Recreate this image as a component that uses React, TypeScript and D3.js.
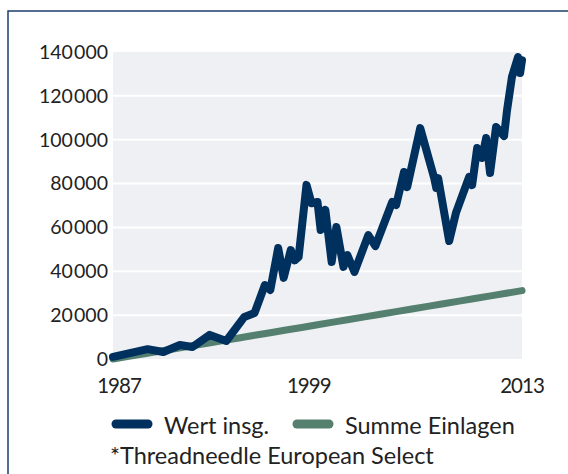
import React from 'react'
import * as d3 from 'd3'

// Wert insg. (years as decimals, values in EUR)
const wertYears = [
  1987.0, 1989.2, 1990.2, 1991.25, 1992.05, 1993.15, 1994.2, 1995.35, 1996.0, 1996.65,
  1997.0, 1997.5, 1997.85, 1998.3, 1998.55, 1998.8, 1999.3, 1999.62, 2000.0, 2000.2,
  2000.5, 2000.9, 2001.2, 2001.65, 2001.9, 2002.35, 2003.23, 2003.68, 2004.75, 2005.0,
  2005.5, 2005.7, 2006.53, 2007.42, 2007.55, 2007.67, 2008.37, 2008.8, 2009.64, 2009.83,
  2010.15, 2010.46, 2010.72, 2010.97, 2011.35, 2011.86, 2012.05, 2012.36, 2012.75, 2012.88,
  2013.0,
]
const wertValues = [
  1000, 4500, 3200, 6400, 5500, 11000, 8200, 19200, 21000, 33700,
  31500, 50600, 37000, 49700, 45000, 46500, 79400, 71000, 71600, 58800,
  68000, 44200, 60200, 42000, 47400, 39700, 56500, 51500, 71600, 70200,
  85300, 78400, 105300, 82500, 78000, 82500, 53800, 66600, 83000, 79300,
  96200, 91700, 100800, 84800, 105800, 101700, 113500, 128600, 137700, 130400,
  136300,
]

// Summe Einlagen (one value per year)
const einlagenYears = [
  1987, 1988, 1989, 1990, 1991, 1992, 1993, 1994, 1995, 1996, 1997, 1998, 1999, 2000,
  2001, 2002, 2003, 2004, 2005, 2006, 2007, 2008, 2009, 2010, 2011, 2012, 2013,
]
const einlagenValues = [
  0, 1200, 2400, 3600, 4800, 6000, 7200, 8400, 9600, 10800, 12000, 13200, 14400, 15600,
  16800, 18000, 19200, 20400, 21600, 22800, 24000, 25200, 26400, 27600, 28800, 30000, 31200,
]

const yTicks = [0, 20000, 40000, 60000, 80000, 100000, 120000, 140000]
const xTicks = [1987, 1999, 2013]
const legendLabels = ['Wert insg.', 'Summe Einlagen']
const footnote = '*Threadneedle European Select'

const NAVY = '#00305e'
const GREEN = '#55806f'
const FONT = 'Lato, sans-serif'

const fmt = (v: number) =>
  v >= 1000 ? `${Math.floor(v / 1000)}\u200a${String(v % 1000).padStart(3, '0')}` : String(v)

export default function App() {
  const x = d3.scaleLinear().domain([1987, 2013]).range([113, 522])
  const y = d3.scaleLinear().domain([0, 140000]).range([359, 52])

  const line = d3
    .line<[number, number]>()
    .x(d => x(d[0]))
    .y(d => y(d[1]))

  const wert = wertYears.map((yr, i) => [yr, wertValues[i]] as [number, number])
  const einlagen = einlagenYears.map((yr, i) => [yr, einlagenValues[i]] as [number, number])

  const legendX = [112, 293]
  const colors = [NAVY, GREEN]

  return (
    <svg
      width={568}
      height={474}
      style={{ position: 'absolute', left: 0, top: 0, background: '#fff' }}
    >
      {/* frame */}
      <rect x={8} y={11} width={600} height={500} fill="none" stroke="#1d3d6b" strokeWidth={1.5} />

      {/* plot background */}
      <rect x={x(1987)} y={y(140000)} width={x(2013) - x(1987)} height={y(0) - y(140000)} fill="#eff0f4" />
      {yTicks.slice(1, -1).map(t => (
        <line key={t} x1={x(1987)} x2={x(2013)} y1={y(t)} y2={y(t)} stroke="#fff" strokeWidth={2} />
      ))}

      {/* y labels */}
      {yTicks.map(t => (
        <text
          key={t}
          x={108}
          y={y(t)}
          dy="0.35em"
          textAnchor="end"
          fontFamily={FONT}
          fontSize={19.5}
          fill="#222"
        >
          {fmt(t)}
        </text>
      ))}

      {/* x labels */}
      {xTicks.map(t => (
        <text
          key={t}
          x={x(t) + (t === 1987 ? 6 : t === 1999 ? 7 : 0)}
          y={393}
          textAnchor="middle"
          fontFamily={FONT}
          fontSize={20.5}
          letterSpacing={-1}
          fill="#222"
        >
          {t}
        </text>
      ))}

      <path d={line(einlagen) ?? ''} fill="none" stroke={GREEN} strokeWidth={7} strokeLinecap="round" />
      <path
        d={line(wert) ?? ''}
        fill="none"
        stroke={NAVY}
        strokeWidth={8}
        strokeLinejoin="round"
        strokeLinecap="round"
      />

      {/* legend */}
      {legendLabels.map((lab, i) => (
        <g key={lab}>
          <line
            x1={legendX[i] + 4}
            x2={legendX[i] + 36}
            y1={424}
            y2={424}
            stroke={colors[i]}
            strokeWidth={9}
            strokeLinecap="round"
          />
          <text x={legendX[i] + 52} y={434} fontFamily={FONT} fontSize={23.5} fill="#222">
            {lab}
          </text>
        </g>
      ))}
      <text x={110} y={464} fontFamily={FONT} fontSize={23.5} fill="#222">
        {footnote}
      </text>
    </svg>
  )
}
